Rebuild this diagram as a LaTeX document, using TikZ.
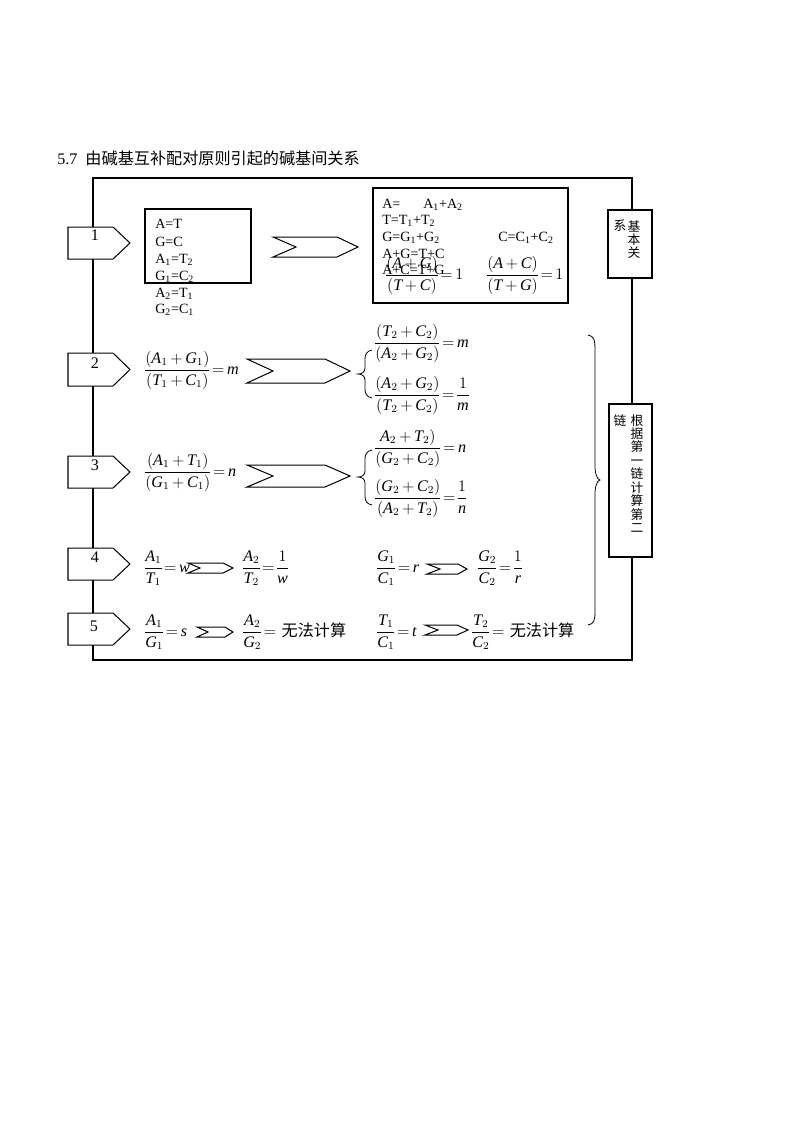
\documentclass[tikz,border=0pt]{standalone}
\usepackage{fontspec}
\setmainfont{Liberation Serif}
\newfontfamily\cjk{Noto Sans CJK SC}
\newcommand\iv[1]{\mbox{\itshape #1}}
\newcommand\mset{\thickmuskip=3mu\relax\medmuskip=3mu\relax\nulldelimiterspace=0pt\relax}
\tikzset{
  tagbox/.style={draw, fill=white, line width=0.75pt},
  chev/.style={draw, line width=0.75pt},
  frm/.style={draw, line width=1.5pt},
  thinbox/.style={draw, line width=0.8pt},
  bracepath/.style={draw, line width=0.6pt},
  txt/.style={inner sep=0pt, anchor=base west, font=\fontsize{10.5}{12}\selectfont},
  mth/.style={inner sep=0pt, anchor=base west, font=\fontsize{12}{14}\selectfont, execute at begin node=\mset},
  num/.style={inner sep=0pt, anchor=base, font=\fontsize{12}{14}\selectfont},
  vtxt/.style={inner sep=0pt, anchor=north, align=center, font=\cjk\fontsize{9.5}{10}\selectfont},
}
\newcommand\mychev[7]{\draw[chev] (#1,#5) -- (#3,#5) -- (#4,#6) -- (#3,#7) -- (#1,#7) -- (#2,#6) -- cycle;}
\newcommand\mytag[3]{\draw[tagbox] (68,#1) -- (113,#1) -- (130,#3) -- (113,#2) -- (68,#2) -- cycle;}
\newcommand\mybrace[3]{\draw[bracepath] (372,#1) .. controls (367,#1+1) and (365,#1+4) .. (365,#1+9) -- (365,#3-6) .. controls (365,#3-2) and (362,#3) .. (358,#3) .. controls (362,#3) and (365,#3+2) .. (365,#3+6) -- (365,#2-9) .. controls (365,#2-4) and (367,#2-1) .. (372,#2);}
\begin{document}
\begin{tikzpicture}[x=0.744pt,y=-0.744pt]
\useasboundingbox (0,0) rectangle (800,1132);
% title
\node[anchor=base west, inner sep=0pt, font=\fontsize{12}{14}\selectfont] (title) at (57,164) {5.7\ \ {\cjk 由碱基互补配对原则引起的碱基间关系}};
% frame
\draw[frm] (93,178) rectangle (632,660);
% right boxes
\draw[frm, fill=white] (608,210) rectangle (652,278);
\draw[frm, fill=white] (609,404) rectangle (652,557);
\node[vtxt] (v1a) at (634,220) {基\\本\\关};
\node[vtxt] (v1b) at (620,220) {系};
\node[vtxt] (v2a) at (637,414) {根\\据\\第\\一\\链\\计\\算\\第\\二};
\node[vtxt] (v2b) at (620,414) {链};
% tags
\mytag{227}{259}{243}
\mytag{353}{386}{369.5}
\mytag{456}{488}{472}
\mytag{548}{580}{564}
\mytag{613}{645}{629}
\node[num] (n1) at (95,240) {1};
\node[num] (n2) at (95,368) {2};
\node[num] (n3) at (95,470) {3};
\node[num] (n4) at (95,562) {4};
\node[num] (n5) at (94,631) {5};
% box 1
\draw[thinbox] (145,209) rectangle (251,283);
\node[txt] (b1a) at (155,228) {A=T};
\node[txt] (b1b) at (155,246) {G=C};
\node[txt] (b1c) at (155,263) {A\textsubscript{1}=T\textsubscript{2}};
\node[txt] (b1d) at (155,280) {G\textsubscript{1}=C\textsubscript{2}};
\node[txt] (b1e) at (155,297) {A\textsubscript{2}=T\textsubscript{1}};
\node[txt] (b1f) at (155,313) {G\textsubscript{2}=C\textsubscript{1}};
% chevrons
\mychev{273}{296}{337}{358}{237}{247}{257}
\mychev{247}{273}{325}{350}{359}{371}{383}
\mychev{247}{273}{325}{350}{465}{476}{487}
\mychev{188}{200}{223}{233}{563}{568}{573}
\mychev{427}{440}{458}{467}{564}{569}{574}
\mychev{197}{208}{225}{233}{627}{632}{637}
\mychev{425}{438}{457}{468}{625}{630}{635}
% box 2
\draw[thinbox] (373,188) rectangle (568,303);
\node[txt] (b2a) at (382,208) {A=};
\node[txt] (b2b) at (423,208) {A\textsubscript{1}+A\textsubscript{2}};
\node[txt] (b2c) at (382,224) {T=T\textsubscript{1}+T\textsubscript{2}};
\node[txt] (b2d) at (382,241) {G=G\textsubscript{1}+G\textsubscript{2}};
\node[txt] (b2e) at (498,241) {C=C\textsubscript{1}+C\textsubscript{2}};
\node[txt] (b2f) at (382,258) {A+G=T+C};
\node[txt] (b2g) at (382,274) {A+C=T+G};
\node[mth] (f1) at (386,279) {$\displaystyle\frac{(\iv{A}+\iv{G})}{(\iv{T}+\iv{C})}=1$};
\node[mth] (f2) at (487,279) {$\displaystyle\frac{(\iv{A}+\iv{C})}{(\iv{T}+\iv{G})}=1$};
% row 2
\node[mth] (r2a) at (145,374) {$\displaystyle\frac{(\iv{A}_1+\iv{G}_1)}{(\iv{T}_1+\iv{C}_1)}=\iv{m}$};
\mybrace{350}{398}{374}
\node[mth] (r2b) at (375,347) {$\displaystyle\frac{(\iv{T}_2+\iv{C}_2)}{(\iv{A}_2+\iv{G}_2)}=\iv{m}$};
\node[mth] (r2c) at (375,399) {$\displaystyle\frac{(\iv{A}_2+\iv{G}_2)}{(\iv{T}_2+\iv{C}_2)}=\frac{1}{\iv{m}}$};
% row 3
\node[mth] (r3a) at (145,476) {$\displaystyle\frac{(\iv{A}_1+\iv{T}_1)}{(\iv{G}_1+\iv{C}_1)}=\iv{n}$};
\mybrace{450}{505}{477}
\node[mth] (r3b) at (375,452) {$\displaystyle\frac{\iv{A}_2+\iv{T}_2)}{(\iv{G}_2+\iv{C}_2)}=\iv{n}$};
\node[mth] (r3c) at (375,502) {$\displaystyle\frac{(\iv{G}_2+\iv{C}_2)}{(\iv{A}_2+\iv{T}_2)}=\frac{1}{\iv{n}}$};
% row 4
\node[mth] (r4a) at (145,572) {$\displaystyle\frac{\iv{A}_1}{\iv{T}_1}=\iv{w}$};
\node[mth] (r4b) at (243,572) {$\displaystyle\frac{\iv{A}_2}{\iv{T}_2}=\frac{1}{\iv{w}}$};
\node[mth] (r4c) at (377,572) {$\displaystyle\frac{\iv{G}_1}{\iv{C}_1}=\iv{r}$};
\node[mth] (r4d) at (478,572) {$\displaystyle\frac{\iv{G}_2}{\iv{C}_2}=\frac{1}{\iv{r}}$};
% row 5
\node[mth] (r5a) at (145,636) {$\displaystyle\frac{\iv{A}_1}{\iv{G}_1}=\iv{s}$};
\node[mth] (r5b) at (243,636) {$\displaystyle\frac{\iv{A}_2}{\iv{G}_2}={}$\,{\cjk 无法计算}};
\node[mth] (r5c) at (377,636) {$\displaystyle\frac{\iv{T}_1}{\iv{C}_1}=\iv{t}$};
\node[mth] (r5d) at (472,636) {$\displaystyle\frac{\iv{T}_2}{\iv{C}_2}={}$\,{\cjk 无法计算}};
% right brace
\draw[bracepath] (588,335) .. controls (594,336) and (595,340) .. (595,350) -- (595,466) .. controls (595,474) and (597,479) .. (600,480) .. controls (597,481) and (595,486) .. (595,494) -- (595,612) .. controls (595,620) and (594,624) .. (588,625);
\end{tikzpicture}
\end{document}
